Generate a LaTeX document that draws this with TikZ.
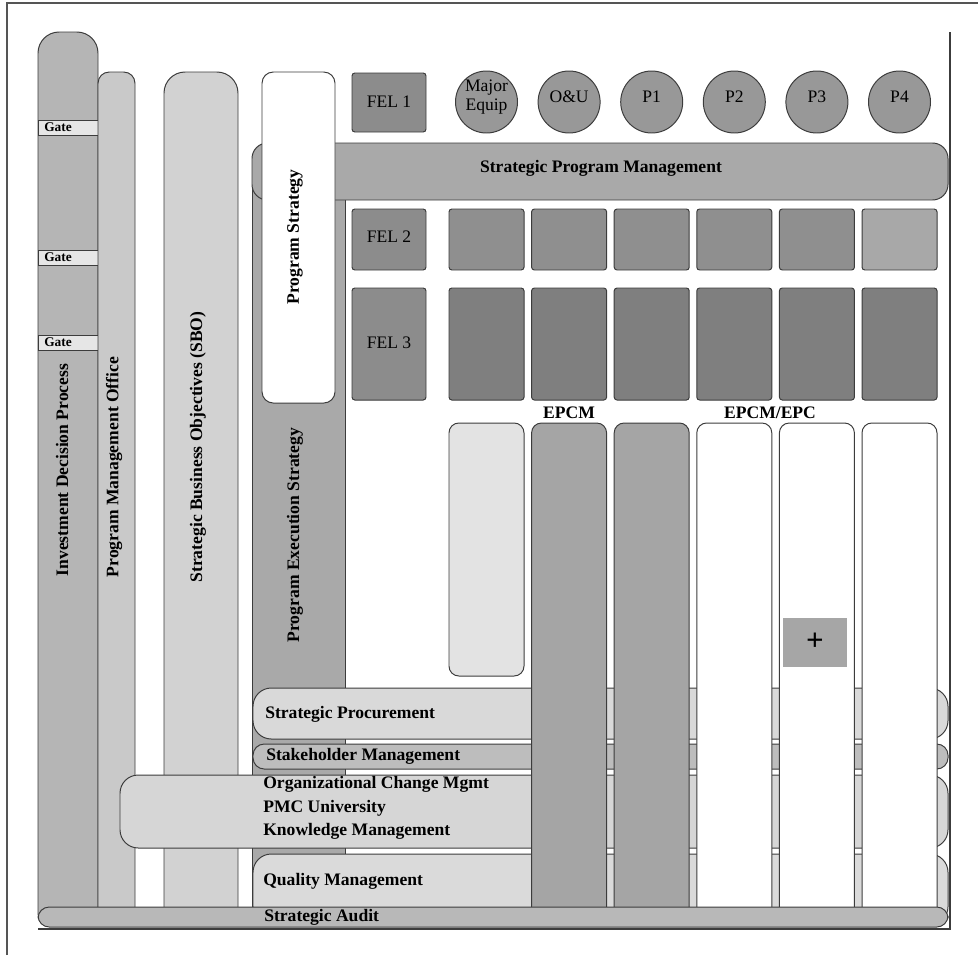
\documentclass[tikz,border=0pt]{standalone}
\usepackage{fontspec}
\setmainfont{Liberation Serif}
\usetikzlibrary{positioning}
\definecolor{cline}{HTML}{3C3C3C}
\definecolor{cframe}{HTML}{555555}
\definecolor{cidp}{HTML}{B5B5B5}
\definecolor{cgate}{HTML}{E6E6E6}
\definecolor{cpmo}{HTML}{C9C9C9}
\definecolor{csbo}{HTML}{D2D2D2}
\definecolor{cpes}{HTML}{A9A9A9}
\definecolor{cspm}{HTML}{A9A9A9}
\definecolor{cfel}{HTML}{8C8C8C}
\definecolor{cball}{HTML}{989898}
\definecolor{cfeltwo}{HTML}{8F8F8F}
\definecolor{cfellight}{HTML}{A8A8A8}
\definecolor{cfelthree}{HTML}{7F7F7F}
\definecolor{clight}{HTML}{E3E3E3}
\definecolor{cdark}{HTML}{A5A5A5}
\definecolor{cplus}{HTML}{A6A6A6}
\definecolor{csp}{HTML}{D9D9D9}
\definecolor{cstake}{HTML}{BDBDBD}
\definecolor{corg}{HTML}{D6D6D6}
\definecolor{cqm}{HTML}{DADADA}
\definecolor{caudit}{HTML}{B8B8B8}

\begin{document}
\begin{tikzpicture}[
  x=0.025cm, y=-0.025cm,
  block/.style={draw=cline, line width=0.7pt, fill=#1},
  bar/.style={draw=cline, line width=0.7pt, fill=#1, rounded corners=11pt},
  lbl/.style={font={\bfseries\fontsize{12.5}{15}\selectfont}, inner sep=0pt},
  reglbl/.style={font={\fontsize{12.5}{14}\selectfont}, inner sep=0pt, align=center},
  vlbl/.style={lbl, rotate=90},
  barlbl/.style={lbl, anchor=west},
  gatelbl/.style={font={\bfseries\fontsize{9.5}{11}\selectfont}, anchor=west, inner sep=0pt}
]
\useasboundingbox (0,0) rectangle (978,955);

% ============================================================
% left columns
% ============================================================
\draw[block=cidp] (38,915) [rounded corners=15pt] -- (38,32) -- (98,32)
  [sharp corners] -- (98,915);
\foreach \y in {120,250,335} {
  \draw[block=cgate] (38,\y) rectangle (98,\y+15);
  \node[gatelbl] (gate\y) at (44,\y+7.5) {Gate};
}
\draw[block=cpmo] (98,915) [rounded corners=8pt] -- (98,72) -- (135,72)
  [sharp corners] -- (135,915);
\draw[block=csbo] (164,915) [rounded corners=15pt] -- (164,72) -- (238,72)
  [sharp corners] -- (238,915);

% program execution strategy, program management bar, program strategy
\draw[block=cpes] (252,170) rectangle (345,915);
\draw[bar=cspm] (252,143) rectangle (948,200);
\draw[block=white, rounded corners=8pt] (262,72) rectangle (335,403);

% ============================================================
% FEL rows
% ============================================================
\draw[block=cfel, rounded corners=2pt] (352,73) rectangle (426,132);
\draw[block=cfel, rounded corners=2pt] (352,209) rectangle (426,270);
\draw[block=cfel, rounded corners=2pt] (352,288) rectangle (426,400);

\foreach \i/\t in {0/{Major\\Equip}, 1/{O\&U}, 2/P1, 3/P2, 4/P3, 5/P4} {
  \draw[block=cball] (486.5+82.6*\i,102) circle [radius=31];
  \node[reglbl] (proj\i) at (486.5+82.6*\i,97) {\t};
}
\foreach \i/\c in {0/cfeltwo, 1/cfeltwo, 2/cfeltwo, 3/cfeltwo, 4/cfeltwo, 5/cfellight} {
  \draw[block=\c, rounded corners=2pt] (449+82.6*\i,209) rectangle ++(75,61);
  \draw[block=cfelthree, rounded corners=2pt] (449+82.6*\i,288) rectangle ++(75,112);
}

% ============================================================
% horizontal bars (behind execution columns)
% ============================================================
\draw[bar=csp, rounded corners=13pt] (253,688) rectangle (948,739);
\draw[bar=cstake, rounded corners=8pt] (253,744) rectangle (948,769);
\draw[bar=corg, rounded corners=13pt] (120,775) rectangle (948,848);
\draw[bar=cqm, rounded corners=13pt] (253,854) rectangle (948,925);

% execution columns
\draw[block=clight, rounded corners=7pt] (449,423) rectangle (524,676);
\foreach \i/\c in {1/cdark, 2/cdark, 3/white, 4/white, 5/white} {
  \draw[block=\c] (449+82.6*\i,915) [rounded corners=7pt] -- (449+82.6*\i,423)
    -- (524+82.6*\i,423) [sharp corners] -- (524+82.6*\i,915);
}
\fill[cplus] (783,618) rectangle (847,667);
\node[inner sep=0pt] (plus) at (815,642) {\fontsize{22}{22}\selectfont\bfseries +};

\draw[bar=caudit, rounded corners=8pt] (38,907) rectangle (948,927);

% frame
\draw[cframe, line width=1.2pt] (7,955) -- (7,3) -- (978,3);
\draw[cline, line width=1pt] (38,929) -- (950,929) -- (950,32);

% ============================================================
% labels
% ============================================================
\node[vlbl] (idp) at (62,470) {Investment Decision Process};
\node[vlbl] (pmo) at (114,467) {Program Management Office};
\node[vlbl] (sbo) at (198,447) {Strategic Business Objectives (SBO)};
\node[vlbl] (pes) at (295,535) {Program Execution Strategy};
\node[vlbl] (ps) at (295,237) {Program Strategy};
\node[lbl] (spm) at (601,168) {Strategic Program Management};

\node[reglbl] (fel1) at (389,102) {FEL 1};
\node[reglbl] (fel2) at (389,237) {FEL 2};
\node[reglbl] (fel3) at (389,343) {FEL 3};

\node[lbl] (epcm) at (569,413) {EPCM};
\node[lbl] (epc) at (770,413) {EPCM/EPC};

\node[barlbl] (proc) at (265,714) {Strategic Procurement};
\node[barlbl] (stake) at (266,756) {Stakeholder Management};
\node[barlbl, align=left, font={\bfseries\fontsize{12.5}{16.5}\selectfont}] (ocm)
  at (263,808) {Organizational Change Mgmt\\PMC University\\Knowledge Management};
\node[barlbl] (qm) at (263,881) {Quality Management};
\node[barlbl] (audit) at (264,917) {Strategic Audit};

\end{tikzpicture}
\end{document}
